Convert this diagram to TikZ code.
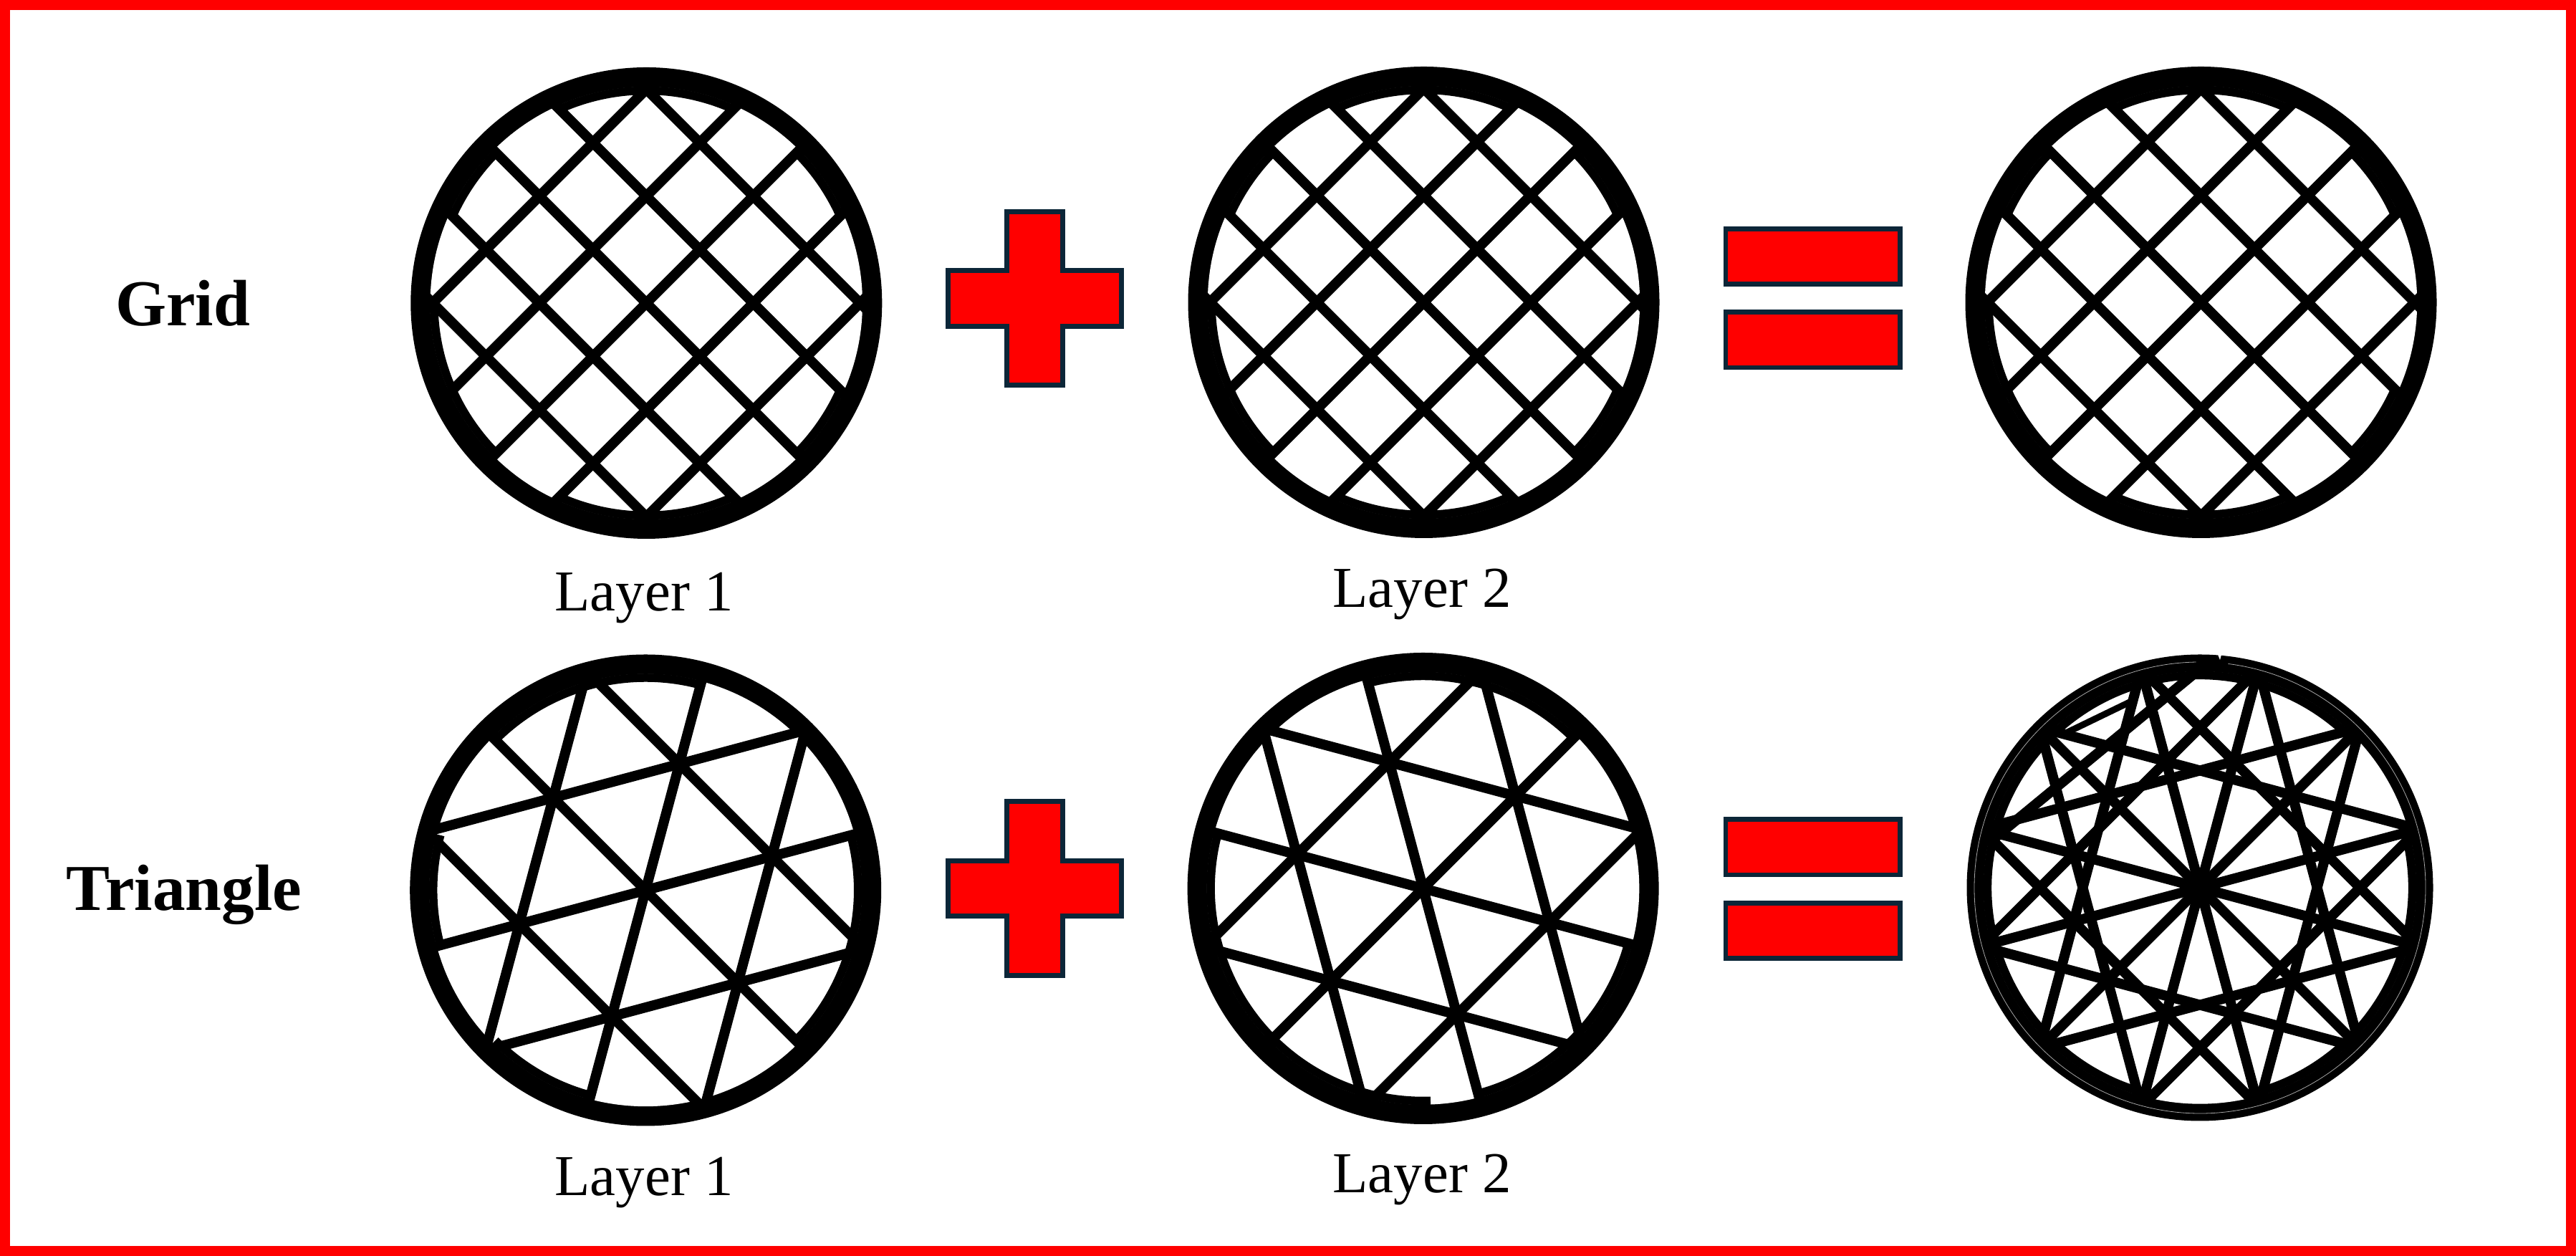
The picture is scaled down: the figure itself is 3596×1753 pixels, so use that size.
\documentclass[tikz,border=0pt]{standalone}
\usepackage{fontspec}
\setmainfont{Liberation Serif}
\definecolor{barnavy}{RGB}{12, 38, 56}
\definecolor{barred}{RGB}{255, 0, 0}
\usetikzlibrary{positioning}
\tikzset{
  pageframe/.style={draw=barred, fill=white, line width=0.28cm},
  sector/.style={draw=black, line width=0.23cm},
  strut/.style={draw=black, line width=0.28cm},
  redbar/.style={draw=barnavy, fill=barred, line width=0.134cm, inner sep=0pt, minimum width=4.866cm, minimum height=1.546cm},
  redcross/.style={draw=barnavy, fill=barred, line width=0.134cm},
  rowname/.style={anchor=base, font=\fontsize{52}{62}\selectfont\bfseries},
  layername/.style={anchor=base, font=\fontsize{46}{55}\selectfont},
}
% #1 centre, #2 outer radius, #3 narrow rim sectors, #4 line directions, #5 line offsets
\newcommand{\wheel}[5]{
  \fill[black] (#1) circle[radius=#2];
  \fill[white] (#1) circle[radius=301.7];
  \foreach \a/\b in {#3}
    \draw[sector] (#1) ++(\a:296.5) arc[start angle=\a, end angle=\b, radius=296.5];
  \begin{scope}
    \clip (#1) circle[radius=303];
    \foreach \a in {#4}
      \foreach \off in {#5}
        \draw[strut, shift={(#1)}, rotate=\a] (-340,\off) -- (340,\off);
  \end{scope}
}
\begin{document}
\begin{tikzpicture}[x=0.02cm, y=0.02cm]
  \useasboundingbox (0,0) rectangle (3596,1753);
  \draw[pageframe] (7,7) rectangle (3589,1746);

  % Centres
  \coordinate (gridone) at (902.3,1330);
  \coordinate (gridtwo) at (1987.5,1331);
  \coordinate (gridsum) at (3072.5,1331);
  \coordinate (triaone) at (901.2,510.5);
  \coordinate (triatwo) at (1986.6,513);
  \coordinate (triasum) at (3071,514);

  % Grid row
  \foreach \gridc in {gridone, gridtwo, gridsum} {
    \wheel{\gridc}{329}{90/65, 45/25, -25/-45, -65/-115, 225/180, 155/135, 115/90}{45, 135}{-211, -105.5, 0, 105.5, 211}
  }

  % Triangle row
  \wheel{triaone}{329}{135/75, 15/-45, 255/225, 195/165}{15, 75, 135}{-158, 0, 158}
  \wheel{triatwo}{329}{105/45, -15/-75, 272/165}{165, 105, 45}{-158, 0, 158}
  \wheel{triasum}{325.5}{15/-75, 255/45}{15, 75, 135, 165, 105, 45}{-158, 0, 158}

  % Stray bits of the overlaid result
  \draw[black!35, line width=0.016cm] (triasum) ++(82.8:315) arc[start angle=82.8, end angle=-269, radius=315];
  \draw[strut] (2784,583) -- (3061,811);
  \draw[black, line width=0.18cm] (2879,727.6) -- (2979,776);
  \fill[white] (3096,839.5) -- (3101,839.5) -- (3099,832) -- cycle;

  % Plus signs
  \foreach \y in {1336.5, 513}
    \draw[redcross, shift={(1444.5,\y)}] (-39.2,121.2) -- (39.2,121.2) -- (39.2,38.7) -- (121.2,38.7)
      -- (121.2,-38.7) -- (39.2,-38.7) -- (39.2,-121.2) -- (-39.2,-121.2) -- (-39.2,-38.7)
      -- (-121.2,-38.7) -- (-121.2,38.7) -- (-39.2,38.7) -- cycle;

  % Equal signs
  \node[redbar] (eqtopa) at (2530.7,1395) {};
  \node[redbar] (eqtopb) at (2530.7,1278.5) {};
  \node[redbar] (eqlowa) at (2530.7,570.5) {};
  \node[redbar] (eqlowb) at (2530.7,454) {};

  % Labels
  \node[rowname] (gridname) at (255,1298) {Grid};
  \node[rowname] (trianame) at (257,482) {Triangle};
  \node[layername] (gridlayerone) at (899,900) {Layer 1};
  \node[layername] (gridlayertwo) at (1985,905) {Layer 2};
  \node[layername] (trialayerone) at (899,84) {Layer 1};
  \node[layername] (trialayertwo) at (1985,88) {Layer 2};
\end{tikzpicture}
\end{document}
